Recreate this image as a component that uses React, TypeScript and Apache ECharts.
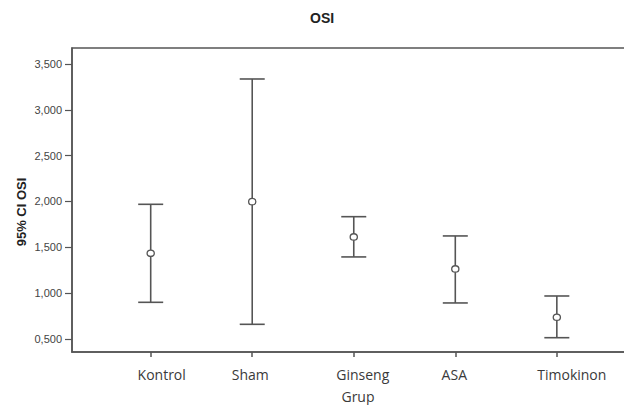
import React, { useEffect, useRef } from "react";
import * as echarts from "echarts";

const categories = ["Kontrol", "Sham", "Ginseng", "ASA", "Timokinon"];
const meanValues = [1.435, 1.998, 1.613, 1.264, 0.737];
const lowerValues = [0.9, 0.66, 1.395, 0.893, 0.514];
const upperValues = [1.969, 3.336, 1.834, 1.624, 0.969];
const yTickValues = [0.5, 1.0, 1.5, 2.0, 2.5, 3.0, 3.5];

export default function App() {
  const ref = useRef<HTMLDivElement>(null);
  useEffect(() => {
    document.body.style.margin = "0";
    const chart = echarts.init(ref.current!, undefined, { renderer: "svg" });
    const data = categories.map((_, i) => [i, lowerValues[i], upperValues[i], meanValues[i]]);
    const stroke = "#555";
    // horizontal nudges of the category labels (SPSS places them off-centre)
    const labelShift = [11, -2, 9, -1, 15];
    const rich: Record<string, any> = {};
    labelShift.forEach((s, i) => {
      rich["c" + i] = {
        fontFamily: "Open Sans",
        fontSize: 14,
        color: "#3a3a3a",
        padding: s >= 0 ? [0, 0, 0, 2 * s] : [0, -2 * s, 0, 0],
      };
    });
    chart.setOption({
      animation: false,
      backgroundColor: "#fff",
      title: {
        text: "OSI",
        left: 305,
        top: 6,
        textStyle: { fontFamily: "Liberation Sans", fontWeight: "bold", fontSize: 14, color: "#222" },
      },
      graphic: [
        {
          type: "text",
          x: 21,
          y: 212,
          rotation: Math.PI / 2,
          style: {
            text: "95% CI OSI",
            fontFamily: "Liberation Sans",
            fontWeight: "bold",
            fontSize: 13,
            fill: "#222",
            align: "center",
            verticalAlign: "middle",
          },
        },
      ],
      grid: {
        left: 72,
        right: -10,
        top: 48,
        bottom: 53,
        containLabel: false,
        outerBoundsMode: "none",
        show: true,
        borderColor: stroke,
        borderWidth: 1.5,
        backgroundColor: "transparent",
      },
      xAxis: {
        type: "value",
        min: -0.775,
        max: 4.76,
        name: "Grup",
        nameLocation: "middle",
        nameGap: 37,
        nameTextStyle: { fontFamily: "Open Sans", fontSize: 14, color: "#3a3a3a", padding: [0, 0, 0, 10] },
        axisLine: { show: true, onZero: false, lineStyle: { color: stroke, width: 1.5 } },
        axisTick: { show: true, customValues: [0, 1, 2, 3, 4], length: 5, lineStyle: { color: stroke, width: 1.5 } },
        axisLabel: {
          customValues: [0, 1, 2, 3, 4],
          margin: 15,
          fontFamily: "Open Sans",
          fontSize: 14,
          color: "#3a3a3a",
          rich,
          formatter: (v: number) => {
            const i = Math.round(v);
            return categories[i] ? `{c${i}|${categories[i]}}` : "";
          },
        },
        splitLine: { show: false },
      },
      yAxis: {
        type: "value",
        min: 0.358,
        max: 3.674,
        axisLine: { show: true, onZero: false, lineStyle: { color: stroke, width: 1.5 } },
        axisTick: { show: true, customValues: yTickValues, length: 7, lineStyle: { color: stroke, width: 1.2 } },
        axisLabel: {
          customValues: yTickValues,
          margin: 10,
          fontFamily: "Liberation Sans",
          fontSize: 11,
          color: "#444",
          formatter: (v: number) => v.toFixed(3).replace(".", ","),
        },
        splitLine: { show: false },
      },
      series: [
        {
          type: "custom",
          data,
          encode: { x: 0, y: [1, 2, 3] },
          renderItem: (params: any, api: any) => {
            const x = api.value(0);
            const lo = api.coord([x, api.value(1)]);
            const hi = api.coord([x, api.value(2)]);
            const mid = api.coord([x, api.value(3)]);
            const hw = 12.5;
            const ls = { stroke, lineWidth: 1.6 };
            return {
              type: "group",
              children: [
                { type: "line", shape: { x1: lo[0], y1: lo[1], x2: hi[0], y2: hi[1] }, style: ls },
                { type: "line", shape: { x1: hi[0] - hw, y1: hi[1], x2: hi[0] + hw, y2: hi[1] }, style: ls },
                { type: "line", shape: { x1: lo[0] - hw, y1: lo[1], x2: lo[0] + hw, y2: lo[1] }, style: ls },
                { type: "ellipse", shape: { cx: mid[0], cy: mid[1], rx: 3.6, ry: 3.2 }, style: { fill: "#fff", stroke, lineWidth: 1.3 } },
              ],
            };
          },
        },
      ],
    });
    return () => chart.dispose();
  }, []);
  return <div ref={ref} style={{ width: 624, height: 405 }} />;
}
